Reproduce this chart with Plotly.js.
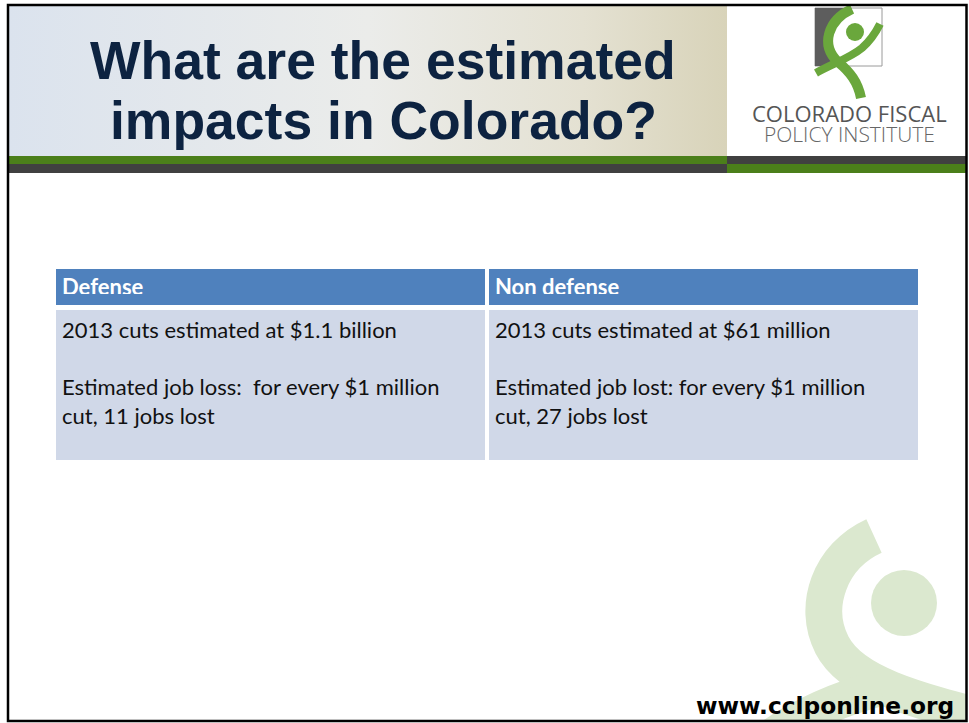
<!DOCTYPE html>
<html>
<head>
<meta charset="utf-8">
<script src="https://cdn.plot.ly/plotly-3.0.1.min.js"></script>
<style>html,body{margin:0;padding:0;background:#fff;}#chart{width:969px;height:723px;}</style>
</head>
<body>
<div id="chart"></div>
<script>
// ---- data ----
const categories = ["Defense", "Non defense"];
const cutYear = [2013, 2013];
const cutAmounts = ["$1.1 billion", "$61 million"];
const jobLabels = ["Estimated job loss:\u00a0 for every", "Estimated job lost: for every"];
const perAmount = ["$1 million", "$1 million"];
const jobsPerMillion = [11, 27];
const titleLines = ["What are the estimated", "impacts in Colorado?"];
const orgLines = ["COLORADO FISCAL", "POLICY INSTITUTE"];
const website = "www.cclponline.org";

// ---- build table ----
const headerVals = categories.map(c => ["<b>" + c + "</b>"]);
const cellVals = categories.map((c, i) => [
  cutYear[i] + " cuts estimated at " + cutAmounts[i] + "<br><br>" +
  jobLabels[i] + " " + perAmount[i] + "<br>cut, " + jobsPerMillion[i] + " jobs lost"
]);

const W = 969, H = 723;
const gradSvg = '<svg xmlns="http://www.w3.org/2000/svg" width="100" height="10" preserveAspectRatio="none">' +
  '<defs><linearGradient id="g" x1="0" y1="0" x2="1" y2="0">' +
  '<stop offset="0" stop-color="#dbe3ee"/><stop offset="0.5" stop-color="#ebecea"/>' +
  '<stop offset="0.8" stop-color="#e4e1d2"/><stop offset="1" stop-color="#d8d3b9"/></linearGradient></defs>' +
  '<rect width="100" height="10" fill="url(#g)"/></svg>';

const traces = [
  {type: "scatter", x: [], y: [], xaxis: "x", yaxis: "y", hoverinfo: "skip", showlegend: false},
  {
    type: "table",
    domain: {x: [54 / W, 920 / W], y: [1 - 480 / H, 1 - 265 / H]},
    columnwidth: [1, 1],
    header: {
      values: headerVals,
      align: "left",
      height: 34,
      fill: {color: "#4f81bd"},
      line: {color: "#ffffff", width: 4},
      font: {family: "Lato, 'Open Sans', sans-serif", size: 22, color: "#ffffff"}
    },
    cells: {
      values: cellVals,
      align: "left",
      height: 158,
      fill: {color: "#d0d8e8"},
      line: {color: "#ffffff", width: 4},
      font: {family: "Lato, 'Open Sans', sans-serif", size: 22, color: "#111111"}
    }
  }
];

const shapes = [
  // header bars
  {type: "rect", xref: "x", yref: "y", x0: 9, x1: 727, y0: 156, y1: 164, fillcolor: "#4b7f1a", line: {width: 0}, layer: "below"},
  {type: "rect", xref: "x", yref: "y", x0: 9, x1: 727, y0: 164, y1: 173, fillcolor: "#404040", line: {width: 0}, layer: "below"},
  {type: "rect", xref: "x", yref: "y", x0: 727, x1: 967, y0: 156, y1: 164, fillcolor: "#404040", line: {width: 0}, layer: "below"},
  {type: "rect", xref: "x", yref: "y", x0: 727, x1: 967, y0: 164, y1: 173, fillcolor: "#4b7f1a", line: {width: 0}, layer: "below"},
  // logo square
  {type: "rect", xref: "x", yref: "y", x0: 815, x1: 882, y0: 8, y1: 66, fillcolor: "#ffffff", line: {color: "#9a9a9a", width: 1}, layer: "below"},
  {type: "path", xref: "x", yref: "y", path: "M 815,8 L 852,8 C 832,20 826,40 836,60 L 832,66 L 815,66 Z", fillcolor: "#5d5d5d", line: {width: 0}, layer: "below"},
  // logo figure
  {type: "path", xref: "x", yref: "y", path: "M 852,9 C 828,20 820,45 838,62 C 850,72 858,82 861,98", line: {color: "#6aa73c", width: 10}, layer: "below"},
  {type: "path", xref: "x", yref: "y", path: "M 816,73 C 832,64 850,58 862,48 C 870,41 876,32 880,24", line: {color: "#6aa73c", width: 8}, layer: "below"},
  {type: "circle", xref: "x", yref: "y", x0: 846, x1: 864, y0: 23, y1: 41, fillcolor: "#6aa73c", line: {width: 0}, layer: "below"},
  // watermark
  {type: "path", xref: "x", yref: "y", path: "M 874,536 C 830,556 812,606 832,645 C 852,684 915,700 1000,722", line: {color: "#dbe8cf", width: 37}, layer: "below"},
  {type: "path", xref: "x", yref: "y", path: "M 760,745 C 795,718 835,700 880,688", line: {color: "#dbe8cf", width: 36}, layer: "below"},
  {type: "circle", xref: "x", yref: "y", x0: 871, x1: 937, y0: 570, y1: 636, fillcolor: "#dbe8cf", line: {width: 0}, layer: "below"},
  // table trim overlays (decorative edges)
  {type: "rect", xref: "x", yref: "y", x0: 50, x1: 925, y0: 258, y1: 269, fillcolor: "#ffffff", line: {width: 0}, layer: "above"},
  {type: "rect", xref: "x", yref: "y", x0: 56, x1: 485, y0: 294, y1: 305, fillcolor: "#4f81bd", line: {width: 0}, layer: "above"},
  {type: "rect", xref: "x", yref: "y", x0: 489, x1: 918, y0: 294, y1: 305, fillcolor: "#4f81bd", line: {width: 0}, layer: "above"},
  {type: "rect", xref: "x", yref: "y", x0: 50, x1: 925, y0: 305, y1: 309, fillcolor: "#ffffff", line: {width: 0}, layer: "above"},
  {type: "rect", xref: "x", yref: "y", x0: 50, x1: 925, y0: 460, y1: 470, fillcolor: "#ffffff", line: {width: 0}, layer: "above"},
  // white outside frame
  {type: "rect", xref: "x", yref: "y", x0: 967, x1: 980, y0: 0, y1: 723, fillcolor: "#ffffff", line: {width: 0}, layer: "above"},
  {type: "rect", xref: "x", yref: "y", x0: 0, x1: 980, y0: 721, y1: 730, fillcolor: "#ffffff", line: {width: 0}, layer: "above"},
  // frame
  {type: "rect", xref: "x", yref: "y", x0: 8, x1: 966.5, y0: 5, y1: 721, fillcolor: "rgba(0,0,0,0)", line: {color: "#000000", width: 2.5}, layer: "above"}
];

const annotations = [
  {xref: "x", yref: "y", x: 383, y: 60, text: "<b>" + titleLines[0] + "</b>", showarrow: false, xanchor: "center", yanchor: "middle",
   font: {family: "'Liberation Sans', Arial, sans-serif", size: 53.5, color: "#0d2341"}},
  {xref: "x", yref: "y", x: 383, y: 120, text: "<b>" + titleLines[1] + "</b>", showarrow: false, xanchor: "center", yanchor: "middle",
   font: {family: "'Liberation Sans', Arial, sans-serif", size: 53.5, color: "#0d2341"}},
  {xref: "x", yref: "y", x: 849, y: 112.5, text: orgLines[0], showarrow: false, xanchor: "center", yanchor: "middle",
   font: {family: "'Open Sans', sans-serif", size: 22, color: "#555555"}},
  {xref: "x", yref: "y", x: 849, y: 134, text: orgLines[1], showarrow: false, xanchor: "center", yanchor: "middle",
   font: {family: "'Open Sans', sans-serif", size: 21, weight: 300, color: "#666666"}},
  {xref: "x", yref: "y", x: 956, y: 705, text: "<b>" + website + "</b>", showarrow: false, xanchor: "right", yanchor: "middle",
   font: {family: "'DejaVu Sans', sans-serif", size: 23.3, color: "#000000"}}
];

const layout = {
  width: W, height: H,
  margin: {l: 0, r: 0, t: 0, b: 0, pad: 0},
  paper_bgcolor: "#ffffff", plot_bgcolor: "rgba(0,0,0,0)",
  showlegend: false,
  xaxis: {range: [0, W], domain: [0, 1], visible: false, fixedrange: true, showgrid: false, zeroline: false},
  yaxis: {range: [H, 0], domain: [0, 1], visible: false, fixedrange: true, showgrid: false, zeroline: false},
  images: [{
    source: "data:image/svg+xml;charset=utf-8," + encodeURIComponent(gradSvg),
    xref: "x", yref: "y", x: 9, y: 6, sizex: 718, sizey: 150,
    xanchor: "left", yanchor: "top", sizing: "stretch", layer: "below"
  }],
  shapes: shapes,
  annotations: annotations
};

Plotly.newPlot("chart", traces, layout, {displayModeBar: false, staticPlot: true});
</script>
</body>
</html>
